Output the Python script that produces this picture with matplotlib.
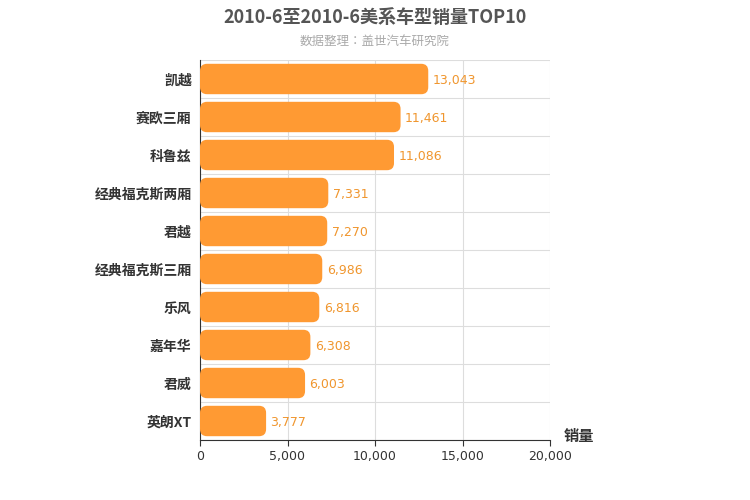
import matplotlib
matplotlib.use("Agg")
import matplotlib.pyplot as plt
from matplotlib import font_manager as fm
from matplotlib.patches import FancyBboxPatch

cjk = None
for f in fm.findSystemFonts():
    if 'CJK' in f and ('Bold' in f or cjk is None):
        if cjk is None or 'Bold' in f:
            cjk = f
        if 'Bold' in f and ('SC' in f or 'CJK-' in f or 'CJKsc' in f):
            break
if cjk:
    fm.fontManager.addfont(cjk)
    fam = fm.FontProperties(fname=cjk).get_name()
else:
    fam = 'Noto Sans CJK SC'
plt.rcParams['font.family'] = [fam, 'DejaVu Sans']

categories = ["凯越", "赛欧三厢", "科鲁兹", "经典福克斯两厢", "君越", "经典福克斯三厢", "乐风", "嘉年华", "君威", "英朗XT"]
values = [13043, 11461, 11086, 7331, 7270, 6986, 6816, 6308, 6003, 3777]
xticks = [0, 5000, 10000, 15000, 20000]

fig = plt.figure(figsize=(7.5, 5), dpi=100)
ax = fig.add_axes([200/750, 0.12, 350/750, 0.76])
ax.set_xlim(0, 20000)
n = len(categories)
ax.set_ylim(n - 0.5, -0.5)
bh = 0.8
color = '#FF9A33'
for i, v in enumerate(values):
    p = FancyBboxPatch((0, i - bh/2), v, bh,
                       boxstyle="round,pad=0,rounding_size=400",
                       mutation_aspect=0.16/343,
                       fc=color, ec='none', zorder=3)
    ax.add_patch(p)
    ax.text(v + 250, i + 0.05, f"{v:,}", va='center', ha='left',
            color='#F0962E', fontsize=9, fontfamily='DejaVu Sans', zorder=4)
ax.set_yticks(range(n))
ax.set_yticklabels(categories, fontsize=10, fontweight='bold', color='#333333')
ax.set_yticks([i + 0.5 for i in range(-1, n)], minor=True)
ax.set_xticks(xticks)
ax.set_xticklabels([f"{t:,}" for t in xticks], fontsize=9, color='#333333', fontfamily='DejaVu Sans')
ax.grid(True, axis='x', color='#dddddd', lw=0.8, zorder=0)
ax.grid(True, axis='y', which='minor', color='#dddddd', lw=0.8, zorder=0)
ax.tick_params(axis='y', which='both', length=0)
ax.tick_params(axis='y', which='major', pad=6)
ax.tick_params(axis='x', length=4, color='#333333')
for s in ['top', 'right']:
    ax.spines[s].set_visible(False)
ax.spines['bottom'].set_color('#333333')
ax.spines['left'].set_color('#333333')
ax.text(1.04, -0.01, "销量", transform=ax.transAxes, fontsize=11,
        fontweight='bold', color='#333333', ha='left', va='bottom')
fig.text(0.5, 0.965, "2010-6至2010-6美系车型销量TOP10", ha='center', va='center',
         fontsize=13, fontweight='bold', color='#555555')
fig.text(0.5, 0.918, "数据整理：盖世汽车研究院", ha='center', va='center',
         fontsize=9, color='#aaaaaa')
fig.savefig("out.png", dpi=100)
